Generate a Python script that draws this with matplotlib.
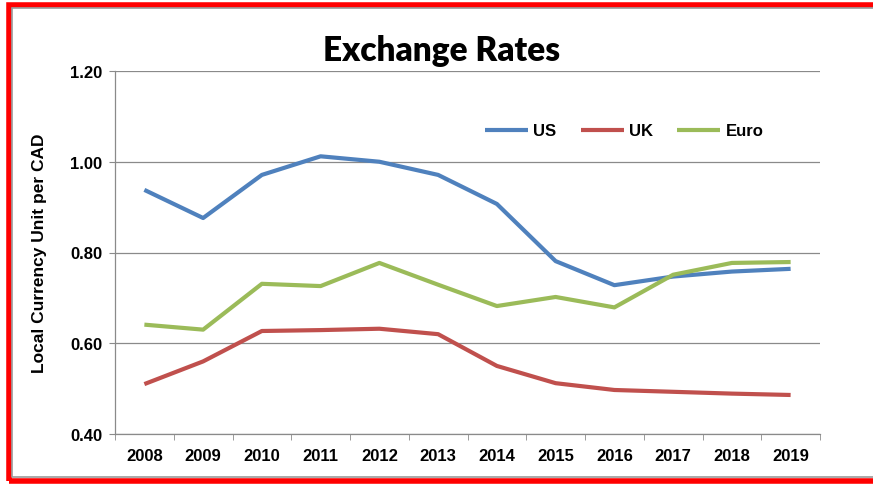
import matplotlib
matplotlib.use("Agg")
import matplotlib.pyplot as plt
from matplotlib.patches import Rectangle
from matplotlib.ticker import FixedLocator, NullFormatter

years = ["2008", "2009", "2010", "2011", "2012", "2013",
         "2014", "2015", "2016", "2017", "2018", "2019"]
us = [0.938, 0.876, 0.971, 1.012, 1.000, 0.971, 0.907, 0.781, 0.728, 0.747, 0.758, 0.764]
uk = [0.510, 0.560, 0.627, 0.629, 0.632, 0.620, 0.550, 0.512, 0.497, 0.493, 0.489, 0.486]
euro = [0.641, 0.630, 0.731, 0.726, 0.777, 0.729, 0.682, 0.702, 0.679, 0.751, 0.777, 0.779]
series_names = ["US", "UK", "Euro"]
colors = ["#4F81BD", "#C0504D", "#9BBB59"]
yticks = [0.40, 0.60, 0.80, 1.00, 1.20]

W, H = 873, 485
fig = plt.figure(figsize=(W / 100, H / 100), dpi=100)
fig.patch.set_facecolor("white")

def fx(px):
    return px / W

def fy(py):
    return 1 - py / H

ax = fig.add_axes([fx(115), fy(435), fx(820) - fx(115), fy(72) - fy(435)])
x = list(range(len(years)))
for vals, name, c in zip([us, uk, euro], series_names, colors):
    ax.plot(x, vals, color=c, lw=3, label=name, solid_capstyle="butt", solid_joinstyle="round")

ax.set_xlim(-0.5, len(years) - 0.5)
ax.set_ylim(0.40, 1.20)
ax.set_yticks(yticks)
ax.set_yticklabels([f"{v:.2f}" for v in yticks])
ax.set_xticks(x)
ax.set_xticklabels(years)
ax.xaxis.set_minor_locator(FixedLocator([i - 0.5 for i in range(len(years) + 1)]))
ax.xaxis.set_minor_formatter(NullFormatter())

gray = "#8a8a8a"
ax.grid(axis="y", color=gray, lw=0.9)
ax.set_axisbelow(True)
for s in ["top", "right"]:
    ax.spines[s].set_visible(False)
ax.spines["left"].set_color(gray)
ax.spines["bottom"].set_color(gray)
ax.spines["left"].set_linewidth(0.9)
ax.spines["bottom"].set_linewidth(0.9)

fam = ["Liberation Sans", "DejaVu Sans"]
ax.tick_params(axis="y", which="major", length=4, color=gray, pad=5, direction="out")
ax.tick_params(axis="x", which="major", length=0, pad=10)
ax.tick_params(axis="x", which="minor", length=4, color=gray, direction="out")
for lab in ax.get_xticklabels() + ax.get_yticklabels():
    lab.set_fontfamily(fam)
    lab.set_fontweight("bold")
    lab.set_fontsize(12)

ax.set_ylabel("Local Currency Unit per CAD", family=fam, weight="bold", fontsize=12.5, labelpad=17)

leg = ax.legend(loc="center left", bbox_to_anchor=((485 - 115) / 705, (435 - 132) / 363),
                ncol=3, frameon=False, borderpad=0, borderaxespad=0,
                handlelength=2.6, handletextpad=0.3, columnspacing=1.45,
                prop=dict(family=fam, weight="bold", size=12))

fig.text(fx(442), fy(51), "Exchange Rates", ha="center", va="center",
         family=["Lato", "DejaVu Sans"], weight="heavy", fontsize=24)

# frame around the figure
fig.patches.append(Rectangle((fx(8.5), fy(482)), fx(900) - fx(8.5), fy(5.5) - fy(482),
                             transform=fig.transFigure, fill=False, edgecolor="#FF0000",
                             lw=4.0, clip_on=False))
fig.patches.append(Rectangle((fx(12), fy(478)), fx(900) - fx(12), fy(9) - fy(478),
                             transform=fig.transFigure, fill=False, edgecolor="#999999",
                             lw=1.2, clip_on=False))

fig.savefig("out.png", dpi=100)
